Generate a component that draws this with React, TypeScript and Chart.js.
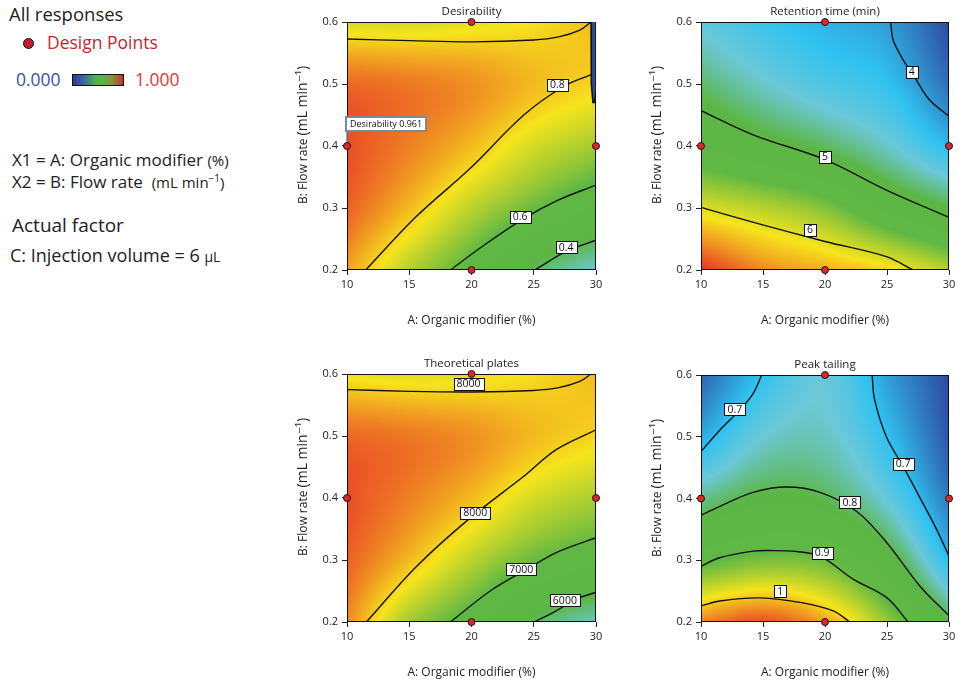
import React, { useEffect, useRef } from "react";
import { Chart, registerables } from "chart.js";
Chart.register(...registerables);

const FONT = "'Open Sans', 'DejaVu Sans', sans-serif";

// ---------- data ----------
const gridA = [10, 15, 20, 25, 30]; // A: Organic modifier (%)
const gridB = [0.2, 0.3, 0.4, 0.5, 0.6]; // B: Flow rate (mL/min)
const designA = [20, 10, 30, 20];
const designB = [0.6, 0.4, 0.4, 0.2];

// response surfaces, rows = B (0.2 .. 0.6), cols = A (10 .. 30)
const desirabilityGrid = [
  [0.86, 0.7, 0.57, 0.4, 0.3],
  [0.94, 0.83, 0.71, 0.61, 0.52],
  [0.961, 0.9, 0.83, 0.74, 0.68],
  [0.93, 0.91, 0.88, 0.83, 0.795],
  [0.74, 0.74, 0.76, 0.785, 0.83],
];
const retentionGrid = [
  [6.8, 6.45, 6.3, 6.15, 5.85],
  [6.0, 5.85, 5.65, 5.25, 4.95],
  [5.3, 5.08, 4.88, 4.6, 4.2],
  [4.85, 4.6, 4.4, 4.25, 3.8],
  [4.5, 4.3, 4.15, 4.03, 3.6],
];
const platesGrid = [
  [8450, 7400, 6800, 6000, 5600],
  [8700, 8150, 7550, 7050, 6750],
  [8800, 8500, 8150, 7700, 7450],
  [8650, 8550, 8400, 8150, 7980],
  [7850, 7750, 7800, 7950, 8150],
];
const tailingGrid = [
  [1.05, 1.08, 1.03, 0.935, 0.81],
  [0.89, 0.915, 0.905, 0.83, 0.695],
  [0.78, 0.815, 0.805, 0.745, 0.64],
  [0.68, 0.75, 0.76, 0.7, 0.61],
  [0.62, 0.7, 0.745, 0.67, 0.6],
];

// contour lines [A, B]
const desir08Lower = [[11.5, 0.2], [15.5, 0.285], [19.9, 0.364], [24.2, 0.45], [27.4, 0.496], [29.6, 0.515]];
const desir08Upper = [[10, 0.5725], [15, 0.57], [20, 0.568], [25, 0.571], [27, 0.576], [28.7, 0.587], [29.6, 0.6]];
const desir06 = [[18.3, 0.2], [21, 0.24], [24.2, 0.283], [27, 0.313], [30, 0.337]];
const desir04 = [[25.1, 0.2], [27.6, 0.23], [30, 0.248]];
const desirZeroStrip = [[29.6, 0.6], [29.6, 0.515], [29.65, 0.5], [29.75, 0.47], [29.9, 0.47], [30, 0.49], [30, 0.6]];

const ret4 = [[25.3, 0.6], [25.5, 0.571], [26.3, 0.539], [27.1, 0.515], [28.4, 0.475], [30, 0.448]];
const ret5 = [[10, 0.457], [14.2, 0.418], [20, 0.378], [24.95, 0.329], [30, 0.285]];
const ret6 = [[10, 0.301], [14.75, 0.274], [20, 0.246], [24.95, 0.2215], [27.1, 0.2]];

const plates8000Upper = [[10, 0.5748], [15, 0.572], [20, 0.571], [25, 0.5735], [27, 0.578], [28.7, 0.588], [29.6, 0.6]];
const plates8000Lower = [[11.55, 0.2], [15.6, 0.29], [19.9, 0.368], [24.2, 0.435], [26.8, 0.478], [30, 0.51]];
const plates7000 = [[18.3, 0.2], [21.5, 0.25], [24.2, 0.282], [26.8, 0.312], [30, 0.336]];
const plates6000 = [[25.05, 0.2], [26.8, 0.218], [28.4, 0.2365], [30, 0.248]];

const tail07Left = [[10, 0.476], [11.53, 0.511], [13.14, 0.5435], [14.2, 0.57], [14.9, 0.6]];
const tail07Right = [[23.8, 0.6], [24.0, 0.56], [24.95, 0.5], [26.3, 0.452], [27.6, 0.4035], [29.0, 0.35], [30, 0.3066]];
const tail08 = [[10, 0.3728], [11.53, 0.3874], [14.2, 0.41], [16.9, 0.4186], [19.6, 0.41], [22.56, 0.379], [25, 0.328], [27.66, 0.258], [30, 0.21]];
const tail09 = [[10, 0.29], [11.5, 0.304], [14.2, 0.3147], [15.56, 0.3157], [17.7, 0.3141], [19.6, 0.3066], [22.3, 0.269], [25, 0.239], [26.7, 0.2]];
const tail1 = [[10, 0.226], [11.5, 0.234], [14.75, 0.239], [18.2, 0.231], [20.66, 0.218], [22, 0.2]];

// contour labels
const desirLabels = [{ t: "0.8", a: 26.9, b: 0.499 }, { t: "0.6", a: 23.9, b: 0.286 }, { t: "0.4", a: 27.6, b: 0.237 }];
const retLabels = [{ t: "4", a: 27.0, b: 0.52 }, { t: "5", a: 20, b: 0.383 }, { t: "6", a: 18.8, b: 0.265 }];
const platesLabels = [{ t: "8000", a: 19.76, b: 0.584 }, { t: "8000", a: 20.3, b: 0.376 }, { t: "7000", a: 24, b: 0.285 }, { t: "6000", a: 27.5, b: 0.235 }];
const tailLabels = [{ t: "0.7", a: 12.74, b: 0.5445 }, { t: "0.7", a: 26.3, b: 0.456 }, { t: "0.8", a: 22.0, b: 0.394 }, { t: "0.9", a: 19.77, b: 0.312 }, { t: "1", a: 16.4, b: 0.25 }];

const flagText = "Desirability 0.961";
const flagA = 10;
const flagB = 0.4;

// ---------- helpers ----------
const STOPS: [number, number[]][] = [
  [0, [46, 74, 158]],
  [0.2, [48, 194, 240]],
  [0.3, [108, 200, 216]],
  [0.42, [92, 182, 70]],
  [0.6, [96, 184, 68]],
  [0.78, [246, 228, 28]],
  [1, [232, 46, 40]],
];
function cmap(t: number) {
  t = Math.max(0, Math.min(1, t));
  for (let k = 1; k < STOPS.length; k++) {
    if (t <= STOPS[k][0]) {
      const [t0, c0] = STOPS[k - 1];
      const [t1, c1] = STOPS[k];
      const f = (t - t0) / (t1 - t0);
      return [c0[0] + (c1[0] - c0[0]) * f, c0[1] + (c1[1] - c0[1]) * f, c0[2] + (c1[2] - c0[2]) * f];
    }
  }
  return STOPS[STOPS.length - 1][1];
}
function cr(p0: number, p1: number, p2: number, p3: number, t: number) {
  return 0.5 * (2 * p1 + (-p0 + p2) * t + (2 * p0 - 5 * p1 + 4 * p2 - p3) * t * t + (-p0 + 3 * p1 - 3 * p2 + p3) * t * t * t);
}
function pick(arr: number[], i: number) {
  const n = arr.length;
  if (i < 0) return 2 * arr[0] - arr[1];
  if (i >= n) return 2 * arr[n - 1] - arr[n - 2];
  return arr[i];
}
function sample(grid: number[][], a: number, b: number) {
  const nA = gridA.length, nB = gridB.length;
  const u = ((a - gridA[0]) / (gridA[nA - 1] - gridA[0])) * (nA - 1);
  const v = ((b - gridB[0]) / (gridB[nB - 1] - gridB[0])) * (nB - 1);
  const i = Math.min(Math.max(Math.floor(u), 0), nA - 2);
  const j = Math.min(Math.max(Math.floor(v), 0), nB - 2);
  const tu = u - i, tv = v - j;
  const rowVal = (r: number) => {
    const R = grid[Math.min(Math.max(r, 0), nB - 1)];
    return cr(pick(R, i - 1), pick(R, i), pick(R, i + 1), pick(R, i + 2), tu);
  };
  const col = gridB.map((_, r) => rowVal(r));
  return cr(pick(col, j - 1), pick(col, j), pick(col, j + 1), pick(col, j + 2), tv);
}

interface PanelCfg {
  title: string;
  left: number; top: number; width: number; height: number;
  L: number; R: number; T: number; B: number;
  grid: number[][]; lo: number; hi: number;
  contours: number[][][];
  labels: { t: string; a: number; b: number }[];
  strip?: number[][];
  flag?: boolean;
}

const panels: PanelCfg[] = [
  { title: "Desirability", left: 290, top: 0, width: 330, height: 345, L: 347, R: 596, T: 22, B: 270, grid: desirabilityGrid, lo: 0, hi: 1,
    contours: [desir08Lower, desir08Upper, desir06, desir04], labels: desirLabels, strip: desirZeroStrip, flag: true },
  { title: "Retention time (min)", left: 640, top: 0, width: 322, height: 345, L: 701, R: 949, T: 22, B: 270, grid: retentionGrid, lo: 3.6, hi: 6.8,
    contours: [ret4, ret5, ret6], labels: retLabels },
  { title: "Theoretical plates", left: 290, top: 345, width: 330, height: 341, L: 347, R: 596, T: 374, B: 622, grid: platesGrid, lo: 4000, hi: 9000,
    contours: [plates8000Upper, plates8000Lower, plates7000, plates6000], labels: platesLabels },
  { title: "Peak tailing", left: 640, top: 345, width: 322, height: 341, L: 701, R: 949, T: 375, B: 622, grid: tailingGrid, lo: 0.6, hi: 1.1,
    contours: [tail07Left, tail07Right, tail08, tail09, tail1], labels: tailLabels },
];

function ContourPanel({ p }: { p: PanelCfg }) {
  const ref = useRef<HTMLCanvasElement>(null);
  useEffect(() => {
    const canvas = ref.current!;
    const yW = p.L - p.left;
    const padR = p.left + p.width - p.R;
    const padT = p.T - p.top;
    const xH = p.top + p.height - p.B;

    const datasets: any[] = [
      {
        type: "scatter",
        data: designA.map((a, i) => ({ x: a, y: designB[i] })),
        pointRadius: 3.5,
        pointBackgroundColor: "#e1252a",
        pointBorderColor: "#1a1a1a",
        pointBorderWidth: 1,
        showLine: false,
        clip: false,
      },
      ...p.contours.map((c) => ({
        type: "line",
        data: c.map(([x, y]) => ({ x, y })),
        borderColor: "#111",
        borderWidth: 1.4,
        pointRadius: 0,
        tension: 0.35,
        fill: false,
      })),
    ];
    if (p.strip) {
      datasets.push({
        type: "line",
        data: p.strip.map(([x, y]) => ({ x, y })),
        borderColor: "#111",
        backgroundColor: "#2d4a9f",
        borderWidth: 1.5,
        pointRadius: 0,
        tension: 0,
        fill: "shape",
      });
    }

    const heat = {
      id: "heat",
      beforeDatasetsDraw(chart: any) {
        const { ctx, chartArea, scales } = chart;
        const l = Math.round(chartArea.left), t = Math.round(chartArea.top);
        const w = Math.round(chartArea.right) - l, h = Math.round(chartArea.bottom) - t;
        const off = document.createElement("canvas");
        off.width = w; off.height = h;
        const octx = off.getContext("2d")!;
        const img = octx.createImageData(w, h);
        for (let py = 0; py < h; py++) {
          const b = scales.y.getValueForPixel(t + py + 0.5);
          for (let px = 0; px < w; px++) {
            const a = scales.x.getValueForPixel(l + px + 0.5);
            const v = sample(p.grid, a, b);
            const c = cmap((v - p.lo) / (p.hi - p.lo));
            const k = (py * w + px) * 4;
            img.data[k] = c[0]; img.data[k + 1] = c[1]; img.data[k + 2] = c[2]; img.data[k + 3] = 255;
          }
        }
        octx.putImageData(img, 0, 0);
        ctx.save();
        ctx.drawImage(off, l, t);
        ctx.strokeStyle = "#111";
        ctx.lineWidth = 1;
        ctx.strokeRect(l + 0.5, t + 0.5, w - 1, h - 1);
        ctx.restore();
      },
      beforeDatasetDraw(chart: any, args: any) {
        if (args.index !== 0) return;
        const { ctx, scales } = chart;
        ctx.save();
        ctx.font = `10.5px ${FONT}`;
        ctx.textAlign = "center";
        ctx.textBaseline = "middle";
        for (const lb of p.labels) {
          const x = scales.x.getPixelForValue(lb.a);
          const y = scales.y.getPixelForValue(lb.b);
          const tw = ctx.measureText(lb.t).width;
          const bw = Math.round(tw + 6), bh = 12;
          const bx = Math.round(x - bw / 2) + 0.5, by = Math.round(y - bh / 2) + 0.5;
          ctx.fillStyle = "#fff";
          ctx.fillRect(bx, by, bw, bh);
          ctx.strokeStyle = "#111";
          ctx.lineWidth = 1;
          ctx.strokeRect(bx, by, bw, bh);
          ctx.fillStyle = "#111";
          ctx.fillText(lb.t, x, y + 0.5);
        }
        if (p.flag) {
          const x = scales.x.getPixelForValue(flagA);
          const y = scales.y.getPixelForValue(flagB);
          ctx.font = `9px ${FONT}`;
          const tw = ctx.measureText(flagText).width;
          const bx = Math.round(x - 1), by = Math.round(y - 29);
          const bw = Math.round(tw + 8), bh = 14;
          ctx.strokeStyle = "#7d8a97";
          ctx.lineWidth = 1.5;
          ctx.beginPath();
          ctx.moveTo(x, by + bh);
          ctx.lineTo(x, y);
          ctx.stroke();
          ctx.fillStyle = "#fff";
          ctx.fillRect(bx, by, bw, bh);
          ctx.lineWidth = 2;
          ctx.strokeRect(bx, by, bw, bh);
          ctx.fillStyle = "#111";
          ctx.textAlign = "left";
          ctx.fillText(flagText, bx + 4, by + bh / 2 + 0.5);
        }
        ctx.restore();
      },
      afterDraw(chart: any) {
        const { ctx, chartArea } = chart;
        const cx = (chartArea.left + chartArea.right) / 2;
        ctx.save();
        ctx.fillStyle = "#222";
        ctx.textBaseline = "middle";
        ctx.textAlign = "center";
        ctx.font = `11.5px ${FONT}`;
        ctx.fillText(p.title, cx, chartArea.top - 10);
        ctx.font = `12px ${FONT}`;
        ctx.fillText("A: Organic modifier (%)", cx, chartArea.bottom + 51);
        // y title, mixed sizes
        const f1 = `12px ${FONT}`, f2 = `14px ${FONT}`;
        const s1 = "B: Flow rate ", s2 = "(mL min\u207B\u00B9)";
        ctx.font = f1; const w1 = ctx.measureText(s1).width;
        ctx.font = f2; const w2 = ctx.measureText(s2).width;
        const tot = w1 + w2;
        ctx.translate(chartArea.left - 45, chartArea.top + 113);
        ctx.rotate(-Math.PI / 2);
        ctx.textAlign = "left";
        ctx.textBaseline = "alphabetic";
        ctx.font = f1;
        ctx.fillText(s1, -tot / 2, 5);
        ctx.font = f2;
        ctx.fillText(s2, -tot / 2 + w1, 5);
        ctx.restore();
      },
    };

    const chart = new Chart(canvas, {
      type: "scatter",
      data: { datasets },
      options: {
        responsive: false,
        animation: false,
        events: [],
        layout: { padding: { left: 0, right: padR, top: padT, bottom: 0 } },
        plugins: { legend: { display: false }, tooltip: { enabled: false } },
        scales: {
          x: {
            type: "linear", min: 10, max: 30,
            ticks: { stepSize: 5, color: "#222", padding: 3, font: { size: 11, family: FONT } },
            grid: { display: true, drawOnChartArea: false, drawTicks: true, tickLength: 5, color: "#222" },
            border: { display: false },
            afterFit: (s: any) => { s.height = xH; },
          },
          y: {
            type: "linear", min: 0.2, max: 0.6,
            ticks: { stepSize: 0.1, color: "#222", padding: 4, font: { size: 11, family: FONT }, callback: (v: any) => Number(v).toFixed(1) },
            grid: { display: true, drawOnChartArea: false, drawTicks: true, tickLength: 5, color: "#222" },
            border: { display: false },
            afterFit: (s: any) => { s.width = yW; },
          },
        },
      } as any,
      plugins: [heat],
    });
    return () => chart.destroy();
  }, [p]);
  return (
    <canvas
      ref={ref}
      width={p.width}
      height={p.height}
      style={{ position: "absolute", left: p.left, top: p.top, width: p.width, height: p.height }}
    />
  );
}

function Txt({ x, baseline, size, color = "#222", children }: any) {
  return (
    <div
      style={{
        position: "absolute", left: x, top: baseline - 0.89 * size, fontSize: size, lineHeight: 1,
        fontFamily: FONT, color, whiteSpace: "nowrap",
      }}
    >
      {children}
    </div>
  );
}

export default function App() {
  return (
    <div style={{ position: "absolute", left: 0, top: 0, width: 962, height: 686, background: "#fff", overflow: "hidden" }}>
      <Txt x={9} baseline={21} size={18.5}>All responses</Txt>
      <div style={{ position: "absolute", left: 23, top: 38, width: 11, height: 11, borderRadius: "50%", background: "#c0202a", border: "1.5px solid #111", boxSizing: "border-box" }} />
      <Txt x={47} baseline={50} size={17.5} color="#c1282e">Design Points</Txt>
      <Txt x={16} baseline={87} size={17.5} color="#3a4ea5">0.000</Txt>
      <div style={{ position: "absolute", left: 72, top: 74, width: 52, height: 12, border: "1px solid #111", boxSizing: "border-box",
        background: "linear-gradient(to right, #2b3a9c 0%, #3a6aa2 22%, #4cb349 45%, #5ab447 62%, #8f8a3c 80%, #c8302c 100%)" }} />
      <Txt x={135} baseline={87} size={17.5} color="#e8352d">1.000</Txt>
      <Txt x={12} baseline={166} size={17}>X1 = A: Organic modifier <span style={{ fontSize: 15 }}>(%)</span></Txt>
      <Txt x={12} baseline={188} size={17}>X2 = B: Flow rate&nbsp; <span style={{ fontSize: 15 }}>(mL min<sup style={{ fontSize: 10 }}>−1</sup>)</span></Txt>
      <Txt x={12} baseline={233} size={19}>Actual factor</Txt>
      <Txt x={10} baseline={262} size={18}>C: Injection volume = 6 <span style={{ fontSize: 14 }}>µL</span></Txt>
      {panels.map((p, i) => (
        <ContourPanel key={i} p={p} />
      ))}
    </div>
  );
}
